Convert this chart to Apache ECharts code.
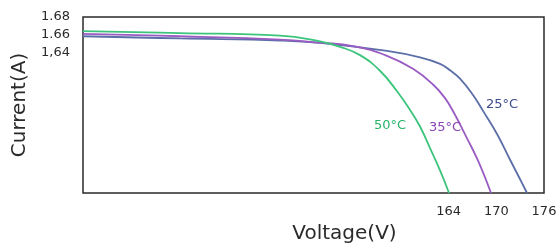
<!DOCTYPE html>
<html>
<head>
<meta charset="utf-8">
<script src="https://cdn.jsdelivr.net/npm/echarts@6/dist/echarts.min.js"></script>
<style>
  html, body { margin: 0; padding: 0; background: #fff; }
  #main { width: 560px; height: 249px; }
</style>
</head>
<body>
<div id="main"></div>
<script>
// tick labels
var xTicks = [164, 170, 176];
var yTicks = [1.64, 1.66, 1.68];
var yTickLabels = ['1,64', '1.66', '1.68'];

// I-V curves (voltage, current)
var v25 = [118, 130.2, 142.79, 147.82, 156.25, 160.4, 162.92, 164.17, 165.43, 167.07, 168.33, 170.09, 171.73, 172.99, 173.86];
var i25 = [1.6581, 1.6556, 1.6533, 1.6506, 1.6414, 1.6341, 1.6267, 1.6194, 1.61, 1.5914, 1.5733, 1.547, 1.5178, 1.4956, 1.48];

var v35 = [118, 130.2, 142.79, 147.82, 151.97, 156.25, 159.52, 162.04, 163.55, 164.8, 166.19, 167.7, 169.33];
var i35 = [1.6608, 1.6581, 1.6544, 1.6508, 1.647, 1.6359, 1.6211, 1.6033, 1.5878, 1.5689, 1.5444, 1.5167, 1.48];

var v50 = [118, 130.2, 142.79, 147.82, 150.34, 152.85, 155.37, 157.51, 159.14, 160.4, 161.66, 162.92, 164.05];
var i50 = [1.6639, 1.6617, 1.6589, 1.6522, 1.6461, 1.6367, 1.6189, 1.5956, 1.5744, 1.5556, 1.5311, 1.5056, 1.48];

var names = ['25°C', '35°C', '50°C'];
var colors = ['#5b6ea8', '#9a5cc2', '#3cc47c'];
var labelColors = ['#3e4d8c', '#8a45b5', '#27b36a'];

function pairs(v, i) {
  return v.map(function (x, k) { return [x, i[k]]; });
}

var curves = [pairs(v25, i25), pairs(v35, i35), pairs(v50, i50)];
// which point each temperature label hangs from, and its offset
var labelAt = [10, 9, 8];
var labelOffset = [[19, -6], [-10, 13], [-20, 16]];

var myChart = echarts.init(document.getElementById('main'));

var series = curves.map(function (data, s) {
  return {
    name: names[s],
    type: 'line',
    data: data,
    smooth: 0.45,
    showSymbol: false,
    lineStyle: { color: colors[s], width: 1.8 },
    itemStyle: { color: colors[s] },
    markPoint: {
      symbol: 'circle',
      symbolSize: 0,
      data: [{ coord: data[labelAt[s]] }],
      label: {
        show: true,
        formatter: names[s],
        color: labelColors[s],
        fontFamily: 'DejaVu Sans',
        fontSize: 13,
        offset: labelOffset[s]
      }
    }
  };
});

var option = {
  animation: false,
  grid: {
    left: 83, right: 16, top: 17, bottom: 52,
    show: true,
    borderColor: '#2a2a2a',
    borderWidth: 1.5,
    backgroundColor: 'transparent'
  },
  xAxis: {
    type: 'value',
    min: 118,
    max: 176,
    name: 'Voltage(V)',
    nameLocation: 'middle',
    nameGap: 31,
    nameTextStyle: { fontFamily: 'DejaVu Sans', fontSize: 20, color: '#2a2a2a', padding: [0, 0, 0, 62] },
    axisLine: { show: false },
    axisTick: { show: false },
    splitLine: { show: false },
    axisLabel: {
      customValues: xTicks,
      margin: 12,
      fontFamily: 'DejaVu Sans',
      fontSize: 13,
      color: '#2a2a2a'
    }
  },
  yAxis: {
    type: 'value',
    min: 1.48,
    max: 1.68,
    name: 'Current(A)',
    nameLocation: 'middle',
    nameGap: 52,
    nameTextStyle: { fontFamily: 'DejaVu Sans', fontSize: 20, color: '#2a2a2a' },
    axisLine: { show: false },
    axisTick: { show: false },
    splitLine: { show: false },
    axisLabel: {
      customValues: yTicks,
      margin: 13,
      fontFamily: 'DejaVu Sans',
      fontSize: 13,
      color: '#2a2a2a',
      formatter: function (val) {
        var k = yTicks.findIndex(function (t) { return Math.abs(t - val) < 1e-6; });
        return k >= 0 ? yTickLabels[k] : '';
      }
    }
  },
  series: series
};

myChart.setOption(option);
</script>
</body>
</html>
